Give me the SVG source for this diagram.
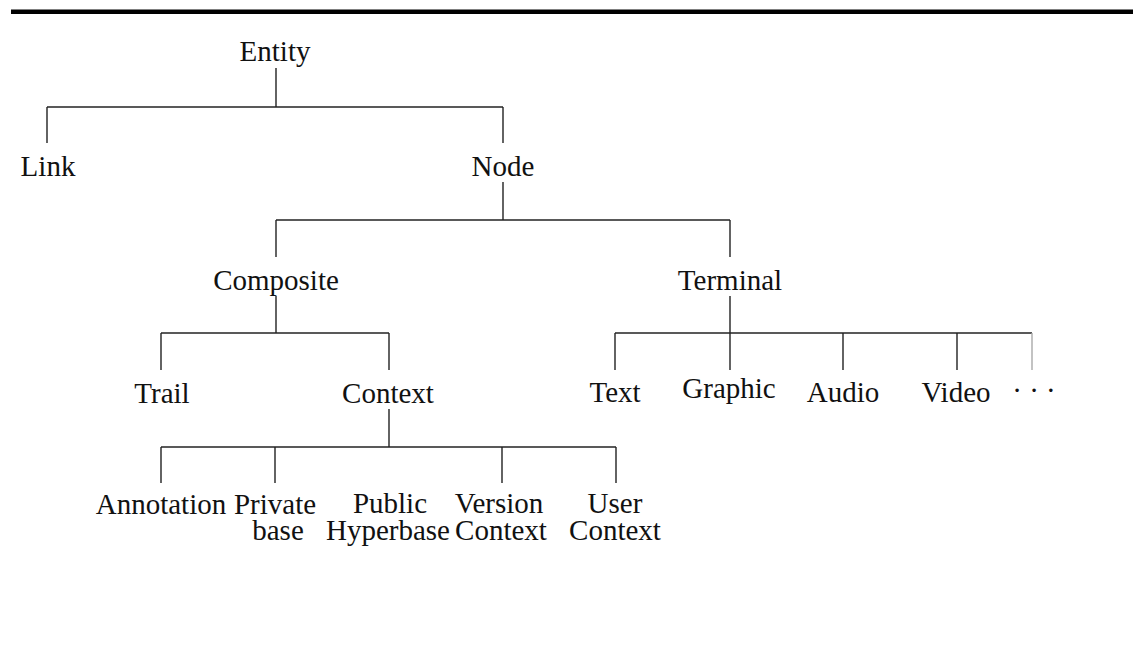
<svg xmlns="http://www.w3.org/2000/svg" width="1133" height="648" viewBox="0 0 1133 648">
<style>
text{font-family:"Liberation Serif","Times New Roman",serif;font-size:29px;fill:#111;text-anchor:middle}
.c line{stroke:#222;stroke-width:1.4;fill:none}
</style>
<rect x="0" y="0" width="1133" height="648" fill="#fff"/>
<rect x="11" y="9.5" width="1122" height="4.5" fill="#000"/>
<g class="c" id="connectors">
<line x1="276" y1="68" x2="276" y2="107"/>
<line x1="47" y1="107" x2="503" y2="107"/>
<line x1="47" y1="107" x2="47" y2="143"/>
<line x1="503" y1="107" x2="503" y2="143"/>
<line x1="503" y1="182" x2="503" y2="220"/>
<line x1="276" y1="220" x2="730" y2="220"/>
<line x1="276" y1="220" x2="276" y2="257"/>
<line x1="730" y1="220" x2="730" y2="257"/>
<line x1="276" y1="296" x2="276" y2="333"/>
<line x1="161" y1="333" x2="389" y2="333"/>
<line x1="161" y1="333" x2="161" y2="370"/>
<line x1="389" y1="333" x2="389" y2="370"/>
<line x1="730" y1="296" x2="730" y2="370"/>
<line x1="615" y1="333" x2="1032" y2="333"/>
<line x1="615" y1="333" x2="615" y2="370"/>
<line x1="843" y1="333" x2="843" y2="370"/>
<line x1="957" y1="333" x2="957" y2="370"/>
<line x1="1032" y1="333" x2="1032" y2="370" style="stroke:#aaa"/>
<line x1="389" y1="409" x2="389" y2="447"/>
<line x1="161" y1="447" x2="616" y2="447"/>
<line x1="161" y1="447" x2="161" y2="483"/>
<line x1="275" y1="447" x2="275" y2="483"/>
<line x1="502" y1="447" x2="502" y2="483"/>
<line x1="616" y1="447" x2="616" y2="483"/>
</g>
<g id="entity"><text x="275" y="61">Entity</text></g>
<g id="link"><text x="48" y="176">Link</text></g>
<g id="node"><text x="503" y="176">Node</text></g>
<g id="composite"><text x="276" y="290">Composite</text></g>
<g id="terminal"><text x="730" y="290">Terminal</text></g>
<g id="trail"><text x="162" y="403">Trail</text></g>
<g id="context"><text x="388" y="403">Context</text></g>
<g id="text"><text x="615" y="402">Text</text></g>
<g id="graphic"><text x="729" y="398">Graphic</text></g>
<g id="audio"><text x="843" y="402">Audio</text></g>
<g id="video"><text x="956" y="402">Video</text></g>
<g id="more"><text x="1034" y="400">· · ·</text></g>
<g id="annotation"><text x="161" y="514">Annotation</text></g>
<g id="private"><text x="275" y="514">Private</text><text x="278" y="540">base</text></g>
<g id="public"><text x="390" y="513">Public</text><text x="388" y="540">Hyperbase</text></g>
<g id="version"><text x="499" y="513">Version</text><text x="501" y="540">Context</text></g>
<g id="user"><text x="615" y="513">User</text><text x="615" y="540">Context</text></g>
</svg>
